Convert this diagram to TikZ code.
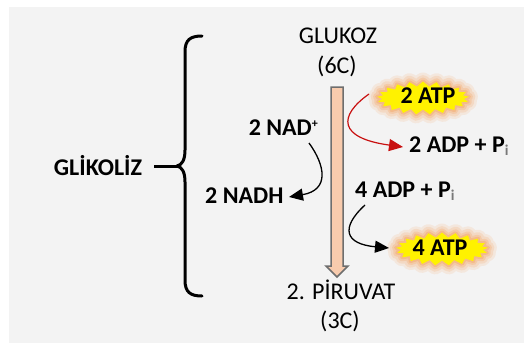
\documentclass[tikz,border=0pt]{standalone}
\usepackage{fontspec}
\setmainfont{Carlito}
\usetikzlibrary{shapes.symbols,arrows.meta}
\definecolor{bggray}{RGB}{243,243,243}
\definecolor{peach}{RGB}{248,203,173}
\definecolor{shaftgray}{RGB}{110,110,110}
\definecolor{glow}{RGB}{247,150,70}
\definecolor{darkred}{RGB}{200,16,16}
\definecolor{subgray}{RGB}{120,120,120}
\begin{document}
\begin{tikzpicture}[x=1pt,y=-1pt,
  lbl/.style={inner sep=0pt, font=\fontsize{24}{28}\selectfont},
  blbl/.style={inner sep=0pt, font=\fontsize{24}{28}\selectfont\bfseries},
  conn/.style={line width=1.3pt, -{Triangle[length=14pt,width=12pt]}},
  burst/.style={starburst, starburst points=21, starburst point height=5pt,
    random starburst=0, inner sep=0pt, minimum width=92pt, minimum height=33pt},
]
\useasboundingbox (0,0) rectangle (524,345);
\fill[white] (0,0) rectangle (524,345);
\fill[bggray] (9,7) rectangle (524,343);

% brace
\draw[line width=3pt, line cap=round, line join=round]
  (202,36) .. controls (190,36) and (185,40) .. (185,52) -- (185,150)
  .. controls (185,160) and (182,165) .. (177,166)
  .. controls (182,167) and (185,172) .. (185,182) -- (185,280)
  .. controls (185,292) and (190,296) .. (202,296);
\coordinate (cusp) at (177,166);
\node[blbl, anchor=base] (glikoliz) at (98,175) {GLİKOLİZ};
\coordinate (tickstart) at (154,166);
\draw[line width=3pt] (tickstart) -- (cusp);

% central arrow
\draw[fill=peach, draw=shaftgray, line width=1.5pt, line join=miter]
  (331,87) -- (343,87) -- (343,266) -- (348,266) -- (337,277) -- (326,266) -- (331,266) -- cycle;

% texts
\node[lbl, anchor=base] (glukoz) at (338,43.5) {GLUKOZ};
\node[lbl, anchor=base] (c6) at (337,74) {(6C)};
\node[lbl, anchor=base] (piruvat) at (341,299) {2. PİRUVAT};
\node[lbl, anchor=base] (c3) at (340,328) {(3C)};

\node[blbl, anchor=base east] (nad) at (318,135) {2 NAD\raisebox{8pt}{\fontsize{12}{12}\selectfont +}};
\node[blbl, anchor=base west] (nadh) at (205,203) {2 NADH};
\node[blbl, anchor=base west] (adp2) at (409,152) {2 ADP + P\raisebox{-3pt}{\fontsize{15}{15}\selectfont\color{subgray}i}};
\node[blbl, anchor=base west] (adp4) at (355,197) {4 ADP + P\raisebox{-3pt}{\fontsize{15}{15}\selectfont\color{subgray}i}};

% starbursts with glow
\foreach \w/\o in {18/0.12,13/0.16,8/0.22,4/0.3}{
  \node[burst, draw=glow, line width=\w pt, draw opacity=\o, line join=round] at (423,98) {};
  \node[burst, draw=glow, line width=\w pt, draw opacity=\o, line join=round] at (442,249) {};
}
\node[burst, fill=yellow] (atp2) at (423,98) {};
\node[blbl, anchor=base] (atp2t) at (428,103) {2 ATP};
\node[burst, fill=yellow] (atp4) at (442,249) {};
\node[blbl, anchor=base] (atp4t) at (440,255) {4 ATP};

% connectors
\coordinate (nadstart) at (309,143);
\coordinate (nadend) at (289,197);
\draw[conn] (nadstart) .. controls (325,165) and (330,190) .. (nadend);

\coordinate (redstart) at (369,94);
\coordinate (redend) at (403,147);
\draw[conn, draw=darkred, line width=1.2pt] (redstart) .. controls (338,116) and (338,138) .. (redend);

\coordinate (adp4start) at (365,205);
\coordinate (adp4end) at (389,248);
\draw[conn] (adp4start) .. controls (340,228) and (345,244) .. (adp4end);
\end{tikzpicture}
\end{document}
